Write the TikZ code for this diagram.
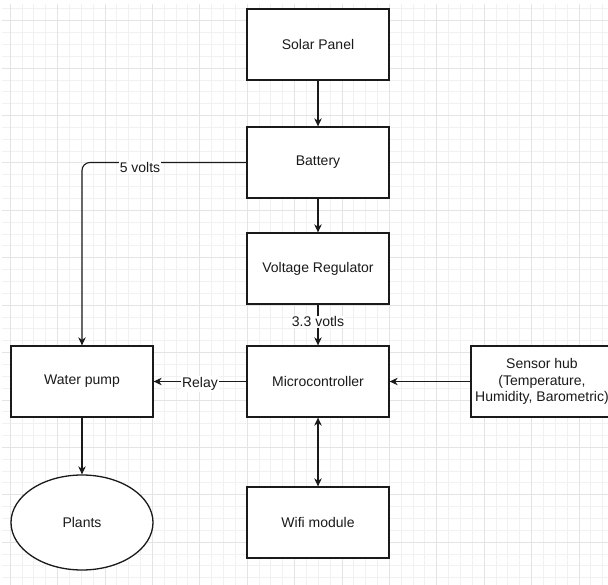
\documentclass[tikz,border=0pt]{standalone}
\usepackage{fontspec}
\setmainfont{Liberation Sans}
\usetikzlibrary{arrows.meta,shapes.geometric}
\definecolor{gminor}{HTML}{F1F1F1}
\definecolor{gmajor}{HTML}{E4E4E4}
\definecolor{ink}{HTML}{1A1A1A}
\begin{document}
\begin{tikzpicture}[x=1pt,y=-1pt,
  box/.style={draw=ink, line width=1.3pt, minimum width=142pt, minimum height=71pt,
    inner sep=0pt, font=\fontsize{14}{16.7}\selectfont, align=center, fill=white, text=ink},
  conn/.style={draw=ink, line width=1.1pt, -{Stealth[length=8pt,width=7.5pt,inset=2.5pt]}},
  dconn/.style={draw=ink, line width=1.1pt, {Stealth[length=8pt,width=7.5pt,inset=2.5pt]}-{Stealth[length=8pt,width=7.5pt,inset=2.5pt]}},
  lbl/.style={fill=white, inner sep=1pt, font=\fontsize{14}{16}\selectfont, text=ink},
  gridminor/.style={draw=gminor, line width=0.6pt},
  gridmajor/.style={draw=gmajor, line width=0.6pt}]
\useasboundingbox (0,0) rectangle (608,585);
\clip (0,0) rectangle (608,585);
\fill[white] (0,0) rectangle (608,585);
% grid
\foreach \k in {-20,...,30} {\pgfmathsetmacro\xx{247+11.85*\k}\draw[gridminor] (\xx,4) -- (\xx,585);}
\foreach \k in {-5,...,43} {\pgfmathsetmacro\yy{68+11.85*\k}\draw[gridminor] (2,\yy) -- (608,\yy);}
\foreach \k in {-5,...,7} {\pgfmathsetmacro\xx{247+47.4*\k}\draw[gridmajor] (\xx,4) -- (\xx,585);}
\foreach \k in {-1,...,10} {\pgfmathsetmacro\yy{68+47.4*\k}\draw[gridmajor] (2,\yy) -- (608,\yy);}
% nodes
\node[box] (solar) at (318,44.5) {Solar Panel};
\node[box] (bat) at (318,162.5) {Battery};
\node[box] (vr) at (318,268.5) {Voltage Regulator};
\node[box] (mcu) at (318,381.5) {Microcontroller};
\node[box] (wifi) at (318,522.5) {Wifi module};
\node[box] (pump) at (82,381.5) {Water pump};
\node[box] (sens) at (542,381.5) {Sensor hub\\(Temperature,\\Humidity, Barometric)};
\node[draw=ink, line width=1.3pt, ellipse, minimum width=142pt, minimum height=95pt, inner sep=0pt,
  fill=white, font=\fontsize{14}{16.7}\selectfont, text=ink] (plants) at (82,522.5) {Plants};
% connectors
\draw[conn] (solar) -- (bat);
\draw[conn] (bat) -- (vr);
\draw[conn] (vr) -- node[lbl, pos=0.42] (l33) {3.3 votls} (mcu);
\draw[conn, rounded corners=8pt] (bat.west) -| (pump.north);
\node[lbl] (l5) at (140,167) {5 volts};
\draw[conn] (mcu) -- (pump);
\node[lbl] (lrelay) at (200,384) {Relay};
\draw[conn] (sens) -- (mcu);
\draw[dconn] (mcu) -- (wifi);
\draw[conn] (pump) -- (plants);
\end{tikzpicture}
\end{document}
